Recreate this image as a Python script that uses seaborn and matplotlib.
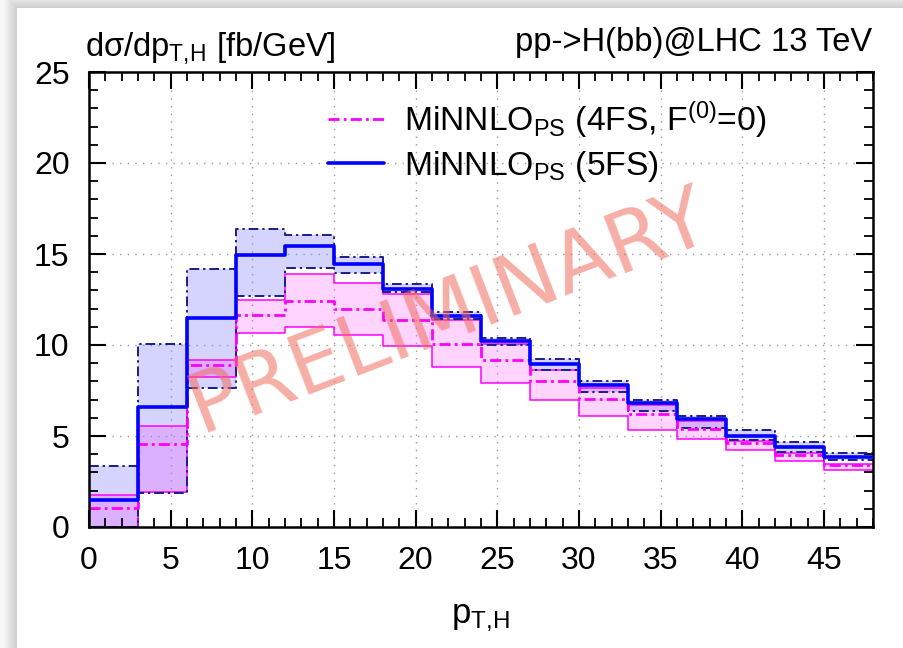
import numpy as np
import pandas as pd
import matplotlib
matplotlib.use("Agg")
import matplotlib.pyplot as plt
from matplotlib.lines import Line2D
from matplotlib.ticker import MultipleLocator
import seaborn as sns

# ---------------- data ----------------
bin_edges = [0, 3, 6, 9, 12, 15, 18, 21, 24, 27, 30, 33, 36, 39, 42, 45, 48]

fs5_central = [1.47, 6.6, 11.5, 14.97, 15.42, 14.47, 13.1, 11.6, 10.2, 8.98, 7.8, 6.81, 5.96, 4.98, 4.4, 3.85]
fs5_upper   = [3.33, 10.07, 14.2, 16.36, 16.07, 14.84, 13.33, 11.81, 10.41, 9.25, 8.0, 7.0, 6.1, 5.31, 4.67, 4.07]
fs5_lower   = [0.0, 1.85, 7.64, 12.69, 14.25, 13.96, 12.91, 11.41, 10.02, 8.65, 7.42, 6.36, 5.46, 4.8, 4.12, 3.67]

fs4_central = [1.05, 4.54, 8.88, 11.63, 12.4, 11.96, 11.36, 10.08, 9.2, 8.0, 7.02, 6.23, 5.41, 4.62, 3.94, 3.42]
fs4_upper   = [1.74, 5.53, 9.2, 12.5, 13.92, 13.4, 12.82, 11.36, 10.05, 8.6, 7.66, 6.69, 5.82, 4.72, 4.07, 3.48]
fs4_lower   = [0.0, 1.92, 8.24, 10.68, 10.99, 10.53, 9.93, 8.79, 7.93, 6.96, 6.12, 5.35, 4.82, 4.25, 3.61, 3.12]

x_ticks = [0, 5, 10, 15, 20, 25, 30, 35, 40, 45]
y_ticks = [0, 5, 10, 15, 20, 25]

label_4fs = r"MiNNLO$_{\mathrm{PS}}$ (4FS, F$^{(0)}$=0)"
label_5fs = r"MiNNLO$_{\mathrm{PS}}$ (5FS)"
title_left = r"dσ/dp$_{\mathrm{T,\!H}}$ [fb/GeV]"
title_right = "pp->H(bb)@LHC 13 TeV"
x_label = r"p$_{\mathrm{T,\!H}}$"
watermark = "PRELIMINARY"

# ---------------- style ----------------
sns.set_theme(style="white")
plt.rcParams["font.family"] = ["Liberation Sans", "DejaVu Sans"]
plt.rcParams["mathtext.fontset"] = "custom"
plt.rcParams["mathtext.rm"] = "Liberation Sans"
plt.rcParams["mathtext.it"] = "Liberation Sans"
plt.rcParams["mathtext.bf"] = "Liberation Sans:bold"
plt.rcParams["axes.axisbelow"] = "line"
for k in ("text.color", "axes.labelcolor", "xtick.color", "ytick.color", "axes.edgecolor"):
    plt.rcParams[k] = "black"

W, H = 904, 648
fig = plt.figure(figsize=(W / 100, H / 100), dpi=100)
fig.patch.set_facecolor("white")

# drop-shadow look of the reference screenshot
bg = np.ones((H, W, 3))
yy, xx = np.mgrid[0:H, 0:W]
px0, py0 = 17, 8
d = np.maximum(px0 - xx, py0 - yy)
mask = d > 0
shade = 0.80 + 0.17 * np.clip(d / 14.0, 0, 1)
for c in range(3):
    bg[..., c] = np.where(mask, shade, 1.0)
fig.figimage(bg, 0, 0, zorder=-10)

ax = fig.add_axes([89 / W, 1 - 527 / H, 784 / W, 455 / H])
ax.set_zorder(1)
ax.set_facecolor("white")


def step(vals):
    return np.append(np.asarray(vals, float), vals[-1])


edges = np.asarray(bin_edges, float)

# bands
ax.fill_between(edges, step(fs5_lower), step(fs5_upper), step="post",
                color=(0, 0, 1), alpha=0.17, lw=0, zorder=1)
ax.fill_between(edges, step(fs4_lower), step(fs4_upper), step="post",
                color=(1, 0, 1), alpha=0.17, lw=0, zorder=1.1)

# band edges
navy = "#1c1c8c"
dd_navy = (0, (5, 2, 1.2, 2))
for arr in (fs5_upper, fs5_lower):
    sns.lineplot(x=edges, y=step(arr), drawstyle="steps-post", color=navy,
                 lw=1.4, linestyle=dd_navy, ax=ax, legend=False, zorder=2.2)
for arr in (fs4_upper, fs4_lower):
    sns.lineplot(x=edges, y=step(arr), drawstyle="steps-post", color="#ff00ff",
                 lw=1.1, ax=ax, legend=False, zorder=2.1)

# central values
dd_mag = (0, (4, 1.5, 1, 1.5))
sns.lineplot(x=edges, y=step(fs4_central), drawstyle="steps-post", color="#ff00ff",
             lw=2.0, linestyle=dd_mag, ax=ax, legend=False, zorder=2.5)
sns.lineplot(x=edges, y=step(fs5_central), drawstyle="steps-post", color="#0000ff",
             lw=2.6, ax=ax, legend=False, zorder=2.6)

# axes
ax.set_xlim(0, 48)
ax.set_ylim(0, 25)
ax.set_xticks(x_ticks)
ax.set_yticks(y_ticks)
ax.xaxis.set_minor_locator(MultipleLocator(1))
ax.yaxis.set_minor_locator(MultipleLocator(1))
ax.tick_params(which="both", direction="in", top=True, right=True,
               bottom=True, left=True, colors="black", labelsize=23)
ax.tick_params(which="major", length=12, width=1.5)
ax.tick_params(which="minor", length=6.5, width=1.3)
ax.tick_params(axis="x", which="major", pad=14)
ax.tick_params(axis="y", which="major", pad=14)
for s in ax.spines.values():
    s.set_visible(True)
    s.set_color("black")
    s.set_linewidth(1.8)
ax.grid(True, which="major", color="#999999", linestyle=(0, (1, 4.5)), lw=1.0)
ax.set_xlabel(x_label, fontsize=25, labelpad=18)
ax.set_ylabel("")

# legend
handles = [Line2D([], [], color="#ff00ff", lw=2.0, linestyle=dd_mag),
           Line2D([], [], color="#0000ff", lw=2.6)]
ax.legend(handles, [label_4fs, label_5fs], loc="upper left",
          bbox_to_anchor=(0.305, 0.94), frameon=False, fontsize=24.2,
          handlelength=1.65, handletextpad=0.6, labelspacing=0.25,
          borderpad=0, borderaxespad=0)

# titles
fig.text(85 / W, 1 - 56 / H, title_left, fontsize=23.5, ha="left", va="baseline")
fig.text(872 / W, 1 - 51 / H, title_right, fontsize=23.5, ha="right", va="baseline")

# watermark
fig.text(450 / W, 1 - 312 / H, watermark, fontsize=60, rotation=21,
         ha="center", va="center", color=(0.94, 0.42, 0.36), alpha=0.55,
         family=["DejaVu Sans"], zorder=5)

fig.savefig("out.png", dpi=100)
